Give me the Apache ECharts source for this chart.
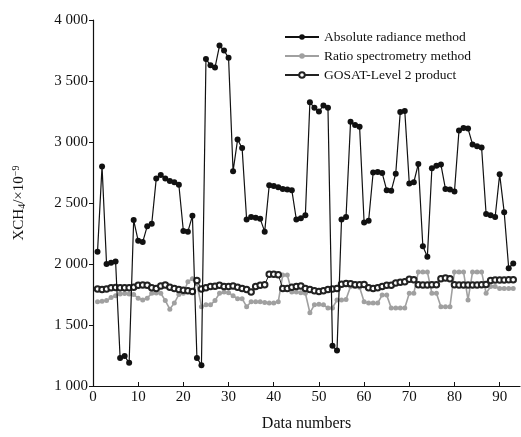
<!DOCTYPE html>
<html>
<head>
<meta charset="utf-8">
<script src="https://cdn.jsdelivr.net/npm/echarts@6/dist/echarts.min.js"></script>
<style>
  html, body { margin: 0; padding: 0; background: #fff; }
  #chart { width: 521px; height: 437px; }
</style>
</head>
<body>
<div id="chart"></div>
<script>
/* data numbers 1..93 */
const dataNumbers = Array.from({ length: 93 }, (_, i) => i + 1);

const absoluteRadiance = [
    2100, 2800, 2000, 2010, 2020, 1230, 1245, 1190, 2360, 2190,
    2180, 2310, 2330, 2700, 2730, 2700, 2680, 2670, 2650, 2270,
    2265, 2395, 1230, 1170, 3680, 3630, 3610, 3790, 3750, 3690,
    2760, 3020, 2950, 2365, 2385, 2380, 2370, 2265, 2645, 2640,
    2630, 2615, 2610, 2605, 2365, 2375, 2400, 3325, 3280, 3250,
    3300, 3280, 1330, 1290, 2365, 2385, 3165, 3140, 3125, 2340,
    2355, 2750, 2755, 2745, 2605, 2600, 2740, 3245, 3255, 2660,
    2670, 2820, 2145, 2060, 2785, 2805, 2815, 2615, 2610, 2595,
    3095, 3115, 3110, 2980, 2965, 2955, 2410, 2400, 2385, 2735,
    2425, 1965, 2005
];

const ratioSpectrometry = [
    1690, 1695, 1700, 1725, 1740, 1755, 1758, 1755, 1750, 1720,
    1705, 1720, 1760, 1762, 1760, 1700, 1630, 1680, 1750, 1760,
    1855, 1880, 1840, 1650, 1665, 1665, 1700, 1760, 1770, 1765,
    1740, 1716, 1716, 1650, 1690, 1690, 1690, 1685, 1680, 1680,
    1690, 1910, 1910, 1770, 1770, 1765, 1760, 1600, 1665, 1670,
    1665, 1640, 1640, 1705, 1705, 1710, 1815, 1815, 1810, 1690,
    1680, 1680, 1680, 1745, 1745, 1640, 1640, 1640, 1640, 1760,
    1760, 1935, 1935, 1935, 1760, 1760, 1650, 1650, 1650, 1935,
    1935, 1935, 1705, 1935, 1935, 1935, 1760, 1815, 1815, 1800,
    1800, 1800, 1800
];

const gosatLevel2 = [
    1795, 1790, 1795, 1805, 1808, 1805, 1805, 1805, 1810, 1825,
    1828, 1825, 1805, 1800, 1820, 1828, 1810, 1800, 1790, 1785,
    1780, 1775, 1865, 1795, 1805, 1815, 1818, 1825, 1815, 1815,
    1820, 1810, 1800, 1790, 1770, 1815, 1825, 1830, 1915, 1915,
    1912, 1800, 1800, 1810, 1815, 1820, 1800, 1790, 1780, 1775,
    1780, 1790, 1795, 1800, 1835, 1840, 1838, 1830, 1830, 1832,
    1805, 1800, 1805, 1815, 1825, 1825, 1845, 1850, 1855, 1875,
    1870, 1830, 1828, 1828, 1830, 1830, 1880, 1885, 1880, 1830,
    1828, 1828, 1828, 1828, 1828, 1830, 1832, 1865, 1868, 1868,
    1868, 1870, 1870
];

const seriesNames = ["Absolute radiance method", "Ratio spectrometry method", "GOSAT-Level 2 product"];

const pairs = vals => vals.map((v, i) => [dataNumbers[i], v]);
const FONT = "Liberation Serif";

const chart = echarts.init(document.getElementById("chart"));
chart.setOption({
    animation: false,
    textStyle: { fontFamily: FONT, color: "#111" },
    grid: { left: 93, right: 1, top: 20, bottom: 47 },
    legend: {
        data: seriesNames,
        orient: "vertical",
        left: 279, top: 25,
        itemWidth: 34, itemHeight: 7, itemGap: 5,
        textStyle: { fontFamily: FONT, fontSize: 13.5, color: "#111" }
    },
    xAxis: {
        type: "value", min: 0, max: 94.5, interval: 10,
        name: "Data numbers", nameLocation: "middle", nameGap: 30,
        nameTextStyle: { fontFamily: FONT, fontSize: 16, color: "#111" },
        axisLine: { lineStyle: { color: "#111", width: 1.2 } },
        axisTick: { inside: true, length: 4, lineStyle: { color: "#111" } },
        axisLabel: {
            fontFamily: FONT, fontSize: 15, color: "#111", margin: 4,
            showMaxLabel: false,
            formatter: v => (v % 10 === 0 ? String(v) : "")
        },
        splitLine: { show: false }
    },
    yAxis: {
        type: "value", min: 1000, max: 4000, interval: 500,
        name: "{a|XCH}{s|4}{a|/×10}{p|−9}", nameLocation: "middle", nameGap: 66,
        nameRotate: 90,
        nameTextStyle: {
            rich: {
                a: { fontFamily: FONT, fontSize: 15, color: "#111" },
                s: { fontFamily: FONT, fontSize: 10, color: "#111", verticalAlign: "bottom", padding: [6, 0, 0, 0] },
                p: { fontFamily: FONT, fontSize: 10, color: "#111", verticalAlign: "top", padding: [0, 0, 6, 0] }
            }
        },
        axisLine: { show: true, lineStyle: { color: "#111", width: 1.2 } },
        axisTick: { show: true, length: 4, lineStyle: { color: "#111" } },
        axisLabel: {
            fontFamily: FONT, fontSize: 15, color: "#111", margin: 5,
            formatter: v => String(v).replace(/\B(?=(\d{3})+(?!\d))/g, " ")
        },
        splitLine: { show: false }
    },
    series: [
        {
            name: seriesNames[1], type: "line", z: 2,
            data: pairs(ratioSpectrometry),
            symbol: "circle", symbolSize: 5,
            lineStyle: { color: "#a0a0a0", width: 1.6 },
            itemStyle: { color: "#a0a0a0" }
        },
        {
            name: seriesNames[2], type: "line", z: 3,
            data: pairs(gosatLevel2),
            symbol: "emptyCircle", symbolSize: 5.5,
            lineStyle: { color: "#222", width: 1 },
            itemStyle: { color: "#222", borderWidth: 1 }
        },
        {
            name: seriesNames[0], type: "line", z: 4,
            data: pairs(absoluteRadiance),
            symbol: "circle", symbolSize: 6,
            lineStyle: { color: "#111", width: 1.2 },
            itemStyle: { color: "#111" }
        }
    ]
});
</script>
</body>
</html>
